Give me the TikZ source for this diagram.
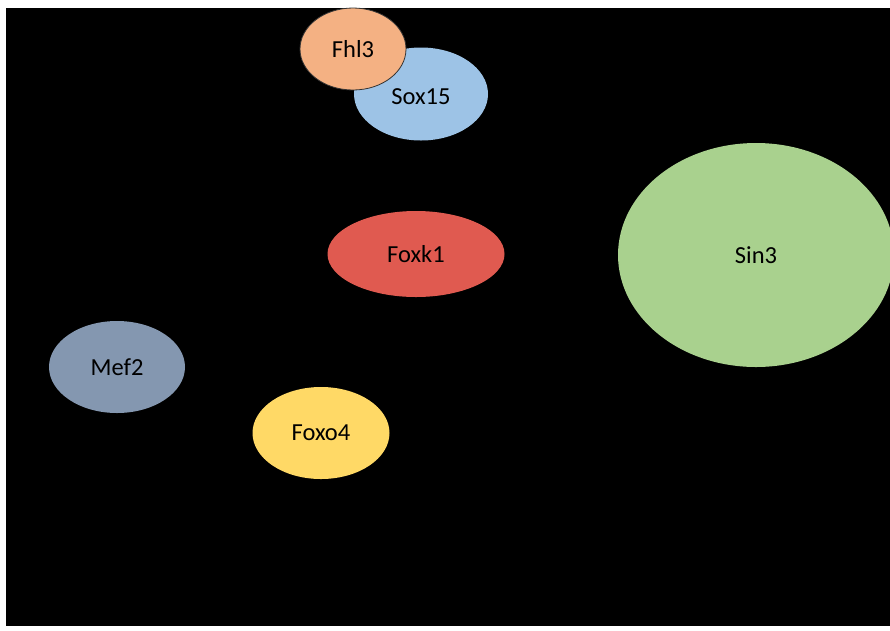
\documentclass[tikz,border=0pt]{standalone}
\usepackage{fontspec}
\setmainfont{Carlito}
\usetikzlibrary{shapes.geometric}
\definecolor{cFhl}{HTML}{F4B183}
\definecolor{cSox}{HTML}{9DC3E6}
\definecolor{cFoxk}{HTML}{E05A50}
\definecolor{cSin}{HTML}{A9D18E}
\definecolor{cMef}{HTML}{8497B0}
\definecolor{cFoxo}{HTML}{FFD966}
\tikzset{
  blob/.style={ellipse, inner sep=0pt, text=black, font=\fontsize{24.5}{28}\selectfont},
  lbl/.style={inner sep=0pt, text=black, font=\fontsize{24.5}{28}\selectfont},
}
\begin{document}
\begin{tikzpicture}[x=1pt,y=-1pt]
\useasboundingbox (0,0) rectangle (890,630);
\fill[white] (0,0) rectangle (890,630);
\fill[black] (6,8) rectangle (890,626);
\begin{scope}
\clip (6,8) rectangle (890,626);
\node[blob, fill=cSin, minimum width=276pt, minimum height=224pt] (sin3) at (756,255) {Sin3};
\end{scope}
\node[blob, fill=cSox, minimum width=134pt, minimum height=93pt] (sox15) at (421,94) {};
\node[lbl] (sox15t) at (421,97) {Sox15};
\node[blob, fill=cFhl, draw=black!80, line width=0.8pt, minimum width=106pt, minimum height=82pt] (fhl3) at (353,49) {Fhl3};
\node[blob, fill=cFoxk, minimum width=177pt, minimum height=86pt] (foxk1) at (416,254) {Foxk1};
\node[blob, fill=cMef, minimum width=136pt, minimum height=92pt] (mef2) at (117,367) {Mef2};
\node[blob, fill=cFoxo, minimum width=137pt, minimum height=92pt] (foxo4) at (321,433) {Foxo4};
\end{tikzpicture}
\end{document}
